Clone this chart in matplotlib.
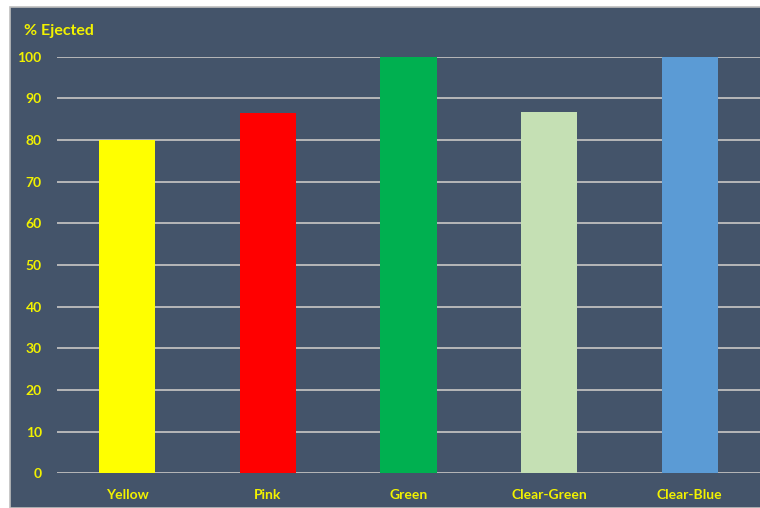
import matplotlib.pyplot as plt
from matplotlib.patches import Rectangle

categories = ["Yellow", "Pink", "Green", "Clear-Green", "Clear-Blue"]
ejected = [80, 86.4, 100, 86.7, 100]
bar_colors = ["#FFFF00", "#FF0000", "#00B050", "#C5E0B4", "#5B9BD5"]
yticks = [0, 10, 20, 30, 40, 50, 60, 70, 80, 90, 100]

bg = "#44546A"
txt = "#F2F200"

plt.rcParams['font.family'] = ['Lato', 'DejaVu Sans']

fig = plt.figure(figsize=(7.6, 5.08), dpi=100)
fig.patch.set_facecolor("white")
fig.patches.append(Rectangle((10 / 760, 0), 1, 1 - 7 / 508, transform=fig.transFigure,
                             facecolor=bg, edgecolor="#BFBFBF", linewidth=1.2, zorder=-1))

ax = fig.add_axes([57 / 760, 34.7 / 508, 1 - 57 / 760, 416.6 / 508])
ax.set_facecolor(bg)
ax.patch.set_alpha(0)

x = range(len(categories))
ax.bar(x, ejected, width=0.4, color=bar_colors, zorder=3)

ax.set_xlim(-0.5, 4.5)
ax.set_ylim(0, 100)
ax.set_yticks(yticks)
ax.set_xticks(list(x))
ax.set_xticklabels(categories)
ax.grid(axis="y", color="#BFBFBF", linewidth=1.3, zorder=1)
ax.tick_params(axis="y", length=0, pad=11, labelcolor=txt, labelsize=10)
ax.tick_params(axis="x", length=0, pad=11, labelcolor=txt, labelsize=10)
for lab in ax.get_xticklabels() + ax.get_yticklabels():
    lab.set_fontweight("bold")
for s in ax.spines.values():
    s.set_visible(False)

fig.text(24 / 760, 1 - 31 / 508, "% Ejected", color=txt, fontsize=11.5, fontweight="bold",
         ha="left", va="center")

fig.savefig("out.png", dpi=100)
